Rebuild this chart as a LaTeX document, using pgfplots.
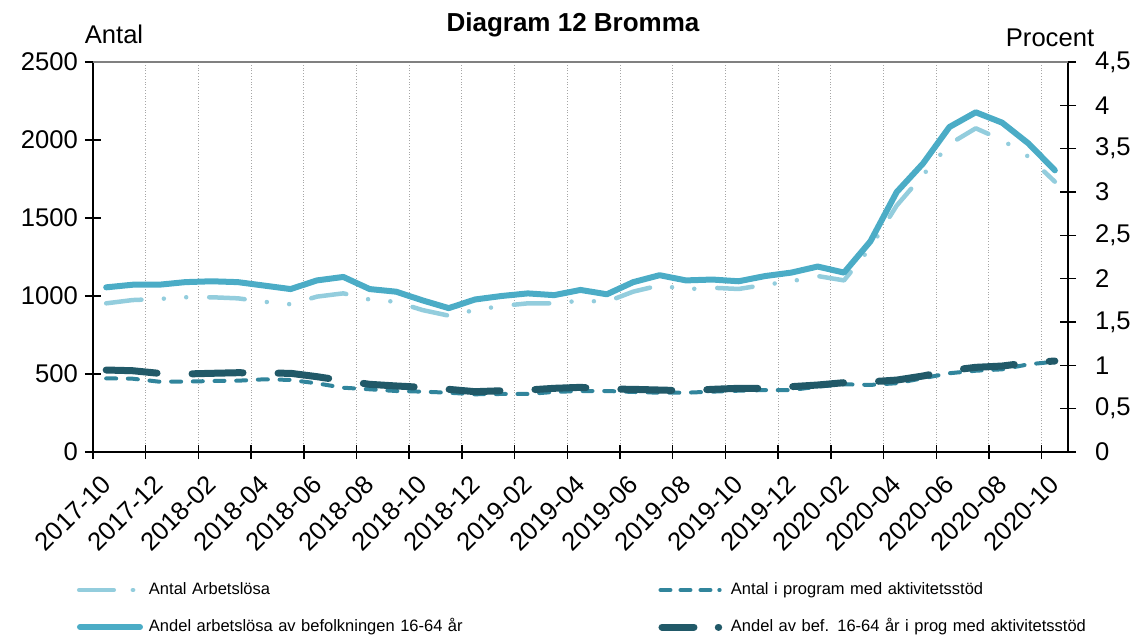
\documentclass[border=0pt]{standalone}
\usepackage{fontspec}
\setmainfont{Liberation Sans}
\usepackage{pgfplots}
\pgfplotsset{compat=1.18}
\definecolor{cLight}{HTML}{93CDDD}
\definecolor{cSolid}{HTML}{4BACC6}
\definecolor{cTeal}{HTML}{31859C}
\definecolor{cDark}{HTML}{215968}
\pgfplotsset{
  base/.style={
    scale only axis, width=487.5pt, height=195pt,
    at={(0pt,0pt)}, anchor=south west,
    xmin=-0.5, xmax=36.5,
    tick align=center,
    major tick length=8pt,
    ticklabel style={font=\fontsize{12.8}{14}\selectfont},
    /pgf/number format/assume math mode=true,
    /pgf/number format/1000 sep={},
  },
  sLight/.style={cLight, line width=2.25pt, line cap=round, line join=round,
    dash pattern=on 17.75pt off 11.2pt on 0pt off 11.2pt on 0pt off 11.5pt},
  sSolid/.style={cSolid, line width=3pt, line cap=round, line join=round, solid},
  sTeal/.style={cTeal, line width=2pt, line cap=round, line join=round,
    dash pattern=on 5pt off 5.85pt},
  sDark/.style={cDark, line width=3.5pt, line cap=round, line join=round,
    dash pattern=on 25.5pt off 17.5pt},
  lLight/.style={legend image code/.code={
    \path (0pt,0pt) (33pt,0pt);
    \draw[cLight, line width=2.25pt, line cap=round, solid] (1.1pt,0pt)--(18.4pt,0pt) (27.9pt,0pt)--(28.1pt,0pt);}},
  lSolid/.style={legend image code/.code={
    \path (0pt,0pt) (33pt,0pt);
    \draw[cSolid, line width=3pt, line cap=round, solid] (1.5pt,0pt)--(31.5pt,0pt);}},
  lTeal/.style={legend image code/.code={
    \path (0pt,0pt) (33pt,0pt);
    \draw[cTeal, line width=2pt, line cap=round, solid] (1pt,0pt)--(6pt,0pt) (11pt,0pt)--(16pt,0pt) (21pt,0pt)--(26pt,0pt) (30.4pt,0pt)--(30.6pt,0pt);}},
  lDark/.style={legend image code/.code={
    \path (0pt,0pt) (33pt,0pt);
    \draw[cDark, line width=3.5pt, line cap=round, solid] (1.75pt,0pt)--(17.75pt,0pt) (29.9pt,0pt)--(30.1pt,0pt);}},
}
\begin{document}
\begin{tikzpicture}
\useasboundingbox (-46.5pt,-92.5pt) rectangle (520pt,226pt);
\begin{axis}[base,
  axis x line*=bottom, axis y line*=left,
  ymin=0, ymax=2500, ytick={0,500,1000,1500,2000,2500},
  xtick={0,2,...,36},
  xticklabels={2017-10,2017-12,2018-02,2018-04,2018-06,2018-08,2018-10,2018-12,2019-02,2019-04,2019-06,2019-08,2019-10,2019-12,2020-02,2020-04,2020-06,2020-08,2020-10},
  major x tick style={draw=none},
  minor xtick={-0.5,1.5,...,35.5},
  minor tick length=7pt,
  minor x tick style={black, line width=0.75pt},
  xminorgrids=true,
  minor x grid style={black!35, densely dotted, line width=0.5pt},
  xticklabel style={rotate=45, anchor=east, xshift=-3.5pt, yshift=-7pt},
  axis line style={black, line width=1pt},
  ytick style={black, line width=0.75pt},
]
\addplot[sLight] coordinates {
(0,953) (1,974) (2,981) (3,992) (4,992) (5,985) (6,963) (7,947) (8,996) (9,1017)
(10,977) (11,963) (12,910) (13,874) (14,910) (15,936) (16,953) (17,953) (18,970) (19,963)
(20,1028) (21,1068) (22,1043) (23,1053) (24,1045) (25,1072) (26,1094) (27,1128) (28,1100) (29,1310)
(30,1580) (31,1776) (32,1974) (33,2075) (34,2000) (35,1893) (36,1733)};
\addplot[sTeal] coordinates {
(0,472) (1,470) (2,451) (3,451) (4,455) (5,457) (6,466) (7,462) (8,440) (9,412)
(10,402) (11,391) (12,387) (13,380) (14,370) (15,372) (16,372) (17,385) (18,391) (19,391)
(20,385) (21,380) (22,380) (23,387) (24,393) (25,397) (26,397) (27,419) (28,434) (29,430)
(30,441) (31,473) (32,505) (33,521) (34,530) (35,562) (36,579)};
\end{axis}
\begin{axis}[base,
  axis x line=none, axis y line*=right,
  ymin=0, ymax=4.5, ytick={0,0.5,1,1.5,2,2.5,3,3.5,4,4.5},
  yticklabel style={xshift=6pt, /pgf/number format/.cd, use comma, fixed},
  axis line style={black, line width=1pt},
  ytick style={black, line width=0.75pt},
  after end axis/.code={\draw[black!50, line width=1pt] (rel axis cs:0,1) -- (rel axis cs:1,1);},
  legend columns=2,
  legend cell align=left,
  legend style={draw=none, fill=none, at={(axis description cs:-0.0195,-0.4013)}, anchor=west,
    inner sep=0pt, outer sep=0pt, row sep=10.8pt,
    font=\fontsize{8.25}{9.9}\selectfont,
    nodes={inner sep=0pt, text width=250pt, align=left, text height=6pt, text depth=1.7pt},
    /tikz/every odd column/.append style={column sep=1.5pt},
    /tikz/every even column/.append style={column sep=3pt}},
]
\addlegendimage{lLight}
\addlegendentry{Antal Arbetslösa}
\addlegendimage{lTeal}
\addlegendentry{Antal i program med aktivitetsstöd}
\addplot[sSolid, lSolid] coordinates {
(0,1.90) (1,1.93) (2,1.93) (3,1.96) (4,1.97) (5,1.96) (6,1.92) (7,1.88) (8,1.98) (9,2.02)
(10,1.88) (11,1.85) (12,1.75) (13,1.66) (14,1.76) (15,1.80) (16,1.83) (17,1.81) (18,1.87) (19,1.82)
(20,1.96) (21,2.04) (22,1.98) (23,1.99) (24,1.97) (25,2.03) (26,2.07) (27,2.14) (28,2.07) (29,2.43)
(30,3.00) (31,3.33) (32,3.75) (33,3.92) (34,3.80) (35,3.56) (36,3.25)};
\addlegendentry{Andel arbetslösa av befolkningen 16-64 år}
\addplot[sDark, lDark] coordinates {
(0,0.946) (1,0.938) (2,0.908) (3,0.900) (4,0.908) (5,0.915) (6,0.911) (7,0.908) (8,0.869) (9,0.823)
(10,0.781) (11,0.762) (12,0.746) (13,0.723) (14,0.696) (15,0.707) (16,0.715) (17,0.735) (18,0.746) (19,0.727)
(20,0.723) (21,0.715) (22,0.707) (23,0.723) (24,0.735) (25,0.735) (26,0.754) (27,0.773) (28,0.800) (29,0.810)
(30,0.830) (31,0.877) (32,0.940) (33,0.977) (34,0.992) (35,1.030) (36,1.050)};
\addlegendentry{Andel av bef. 16-64 år i prog med aktivitetsstöd}
\end{axis}
\node[anchor=base, font=\fontsize{12.8}{14}\selectfont] at (10.5pt,204.3pt) {Antal};
\node[anchor=base, font=\fontsize{12.8}{14}\selectfont] at (478.5pt,202.7pt) {Procent};
\node[anchor=base, font=\bfseries\fontsize{13}{15}\selectfont] at (240pt,210.2pt) {Diagram 12 Bromma};
\end{tikzpicture}
\end{document}
